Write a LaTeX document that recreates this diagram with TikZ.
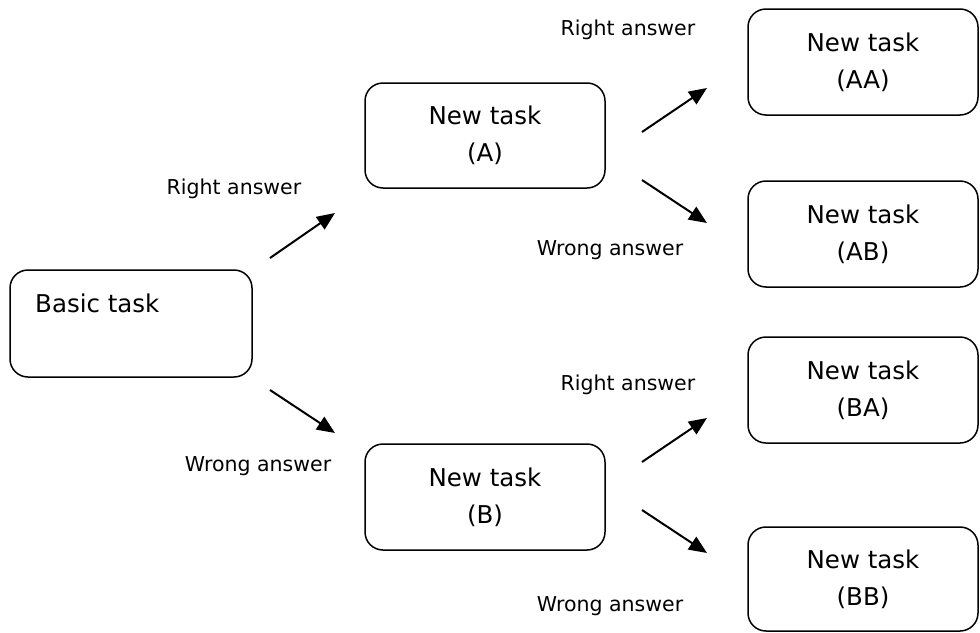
\documentclass[tikz,border=0pt]{standalone}
\usepackage{fontspec}
\setmainfont{DejaVu Sans}
\usetikzlibrary{arrows.meta}
\tikzset{
  box/.style={draw, line width=1.5pt, rounded corners=18pt, inner sep=0pt, align=center,
    font=\fontsize{24.5}{37}\selectfont},
  lbl/.style={inner sep=0pt, font=\fontsize{20.5}{24}\selectfont},
  arr/.style={line width=2pt, -{Triangle[length=18pt,width=15pt]}},
}
\begin{document}
\begin{tikzpicture}[x=1pt,y=-1pt]
\useasboundingbox (0,0) rectangle (980,632);
% boxes
\node[box, minimum width=242pt, minimum height=107pt] (basic) at (131,323.5) {};
\node[anchor=base west, inner sep=0pt, font=\fontsize{24.5}{37}\selectfont] (basictxt) at (35,312) {Basic task};
\node[box, minimum width=240pt, minimum height=105pt] (A) at (485,135.5) {New task\\(A)};
\node[box, minimum width=240pt, minimum height=106pt] (B) at (485,497) {New task\\(B)};
\node[box, minimum width=230pt, minimum height=106pt] (AA) at (863,62) {New task\\(AA)};
\node[box, minimum width=230pt, minimum height=106pt] (AB) at (863,234) {New task\\(AB)};
\node[box, minimum width=230pt, minimum height=106pt] (BA) at (863,390) {New task\\(BA)};
\node[box, minimum width=230pt, minimum height=104pt] (BB) at (863,579) {New task\\(BB)};
% arrow endpoints
\coordinate (s1) at (270,258); \coordinate (e1) at (335,213);
\coordinate (s2) at (270,390); \coordinate (e2) at (335,433);
\coordinate (s3) at (642,132); \coordinate (e3) at (707,88);
\coordinate (s4) at (642,180); \coordinate (e4) at (707,223);
\coordinate (s5) at (642,462); \coordinate (e5) at (707,418);
\coordinate (s6) at (642,510); \coordinate (e6) at (707,553);
\draw[arr] (s1) -- (e1);
\draw[arr] (s2) -- (e2);
\draw[arr] (s3) -- (e3);
\draw[arr] (s4) -- (e4);
\draw[arr] (s5) -- (e5);
\draw[arr] (s6) -- (e6);
% labels
\node[lbl] (l1) at (234,189) {Right answer};
\node[lbl] (l2) at (258,466) {Wrong answer};
\node[lbl] (l3) at (628,30) {Right answer};
\node[lbl] (l4) at (610,250) {Wrong answer};
\node[lbl] (l5) at (628,385) {Right answer};
\node[lbl] (l6) at (610,606) {Wrong answer};
\end{tikzpicture}
\end{document}
